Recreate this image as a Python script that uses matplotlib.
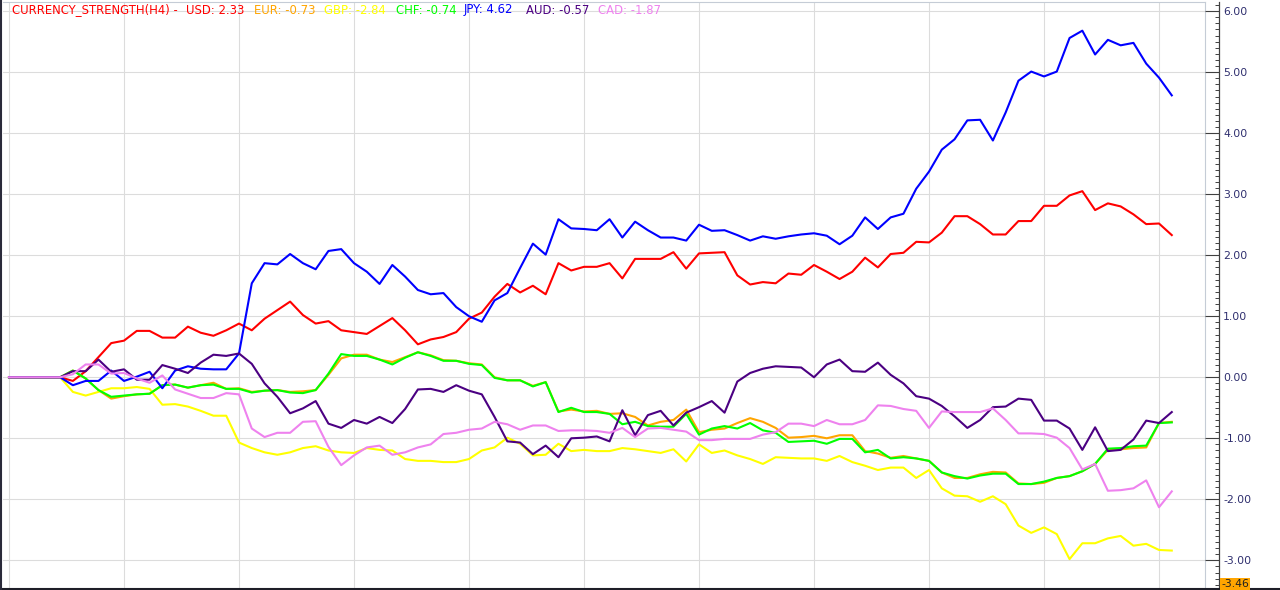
import numpy as np
import matplotlib
matplotlib.use('Agg')
import matplotlib.pyplot as plt
from matplotlib.lines import Line2D
from matplotlib.ticker import MultipleLocator, FormatStrFormatter

# currency strength per H4 bar
usd = [0, 0, 0, 0, 0, -0.06, 0.10, 0.33, 0.56, 0.60,
       0.76, 0.76, 0.65, 0.65, 0.83, 0.73, 0.68, 0.77, 0.88, 0.77,
       0.96, 1.10, 1.24, 1.02, 0.88, 0.92, 0.77, 0.74, 0.71, 0.84,
       0.97, 0.77, 0.54, 0.62, 0.66, 0.74, 0.96, 1.06, 1.32, 1.53,
       1.39, 1.50, 1.36, 1.87, 1.75, 1.81, 1.81, 1.87, 1.62, 1.94,
       1.94, 1.94, 2.05, 1.78, 2.03, 2.04, 2.05, 1.67, 1.52, 1.56,
       1.54, 1.70, 1.68, 1.84, 1.73, 1.61, 1.73, 1.96, 1.80, 2.02,
       2.04, 2.22, 2.21, 2.37, 2.64, 2.64, 2.51, 2.34, 2.34, 2.56,
       2.56, 2.81, 2.81, 2.98, 3.05, 2.74, 2.85, 2.80, 2.67, 2.51,
       2.52, 2.33]
eur = [0, 0, 0, 0, 0, 0.11, -0.02, -0.21, -0.35, -0.31,
       -0.28, -0.27, -0.13, -0.12, -0.17, -0.13, -0.09, -0.19, -0.18, -0.24,
       -0.22, -0.21, -0.24, -0.23, -0.21, 0.04, 0.31, 0.37, 0.37, 0.29,
       0.25, 0.33, 0.41, 0.36, 0.28, 0.27, 0.23, 0.21, 0.00, -0.05,
       -0.05, -0.14, -0.08, -0.56, -0.53, -0.56, -0.55, -0.60, -0.59, -0.65,
       -0.79, -0.73, -0.70, -0.53, -0.90, -0.86, -0.84, -0.75, -0.67, -0.73,
       -0.83, -0.99, -0.98, -0.96, -1.00, -0.95, -0.95, -1.21, -1.25, -1.32,
       -1.29, -1.33, -1.37, -1.56, -1.65, -1.65, -1.59, -1.55, -1.56, -1.74,
       -1.75, -1.73, -1.65, -1.62, -1.54, -1.42, -1.19, -1.18, -1.16, -1.15,
       -0.75, -0.73]
gbp = [0, 0, 0, 0, 0, -0.24, -0.30, -0.24, -0.18, -0.18,
       -0.16, -0.19, -0.45, -0.44, -0.48, -0.55, -0.63, -0.63, -1.07, -1.16,
       -1.23, -1.27, -1.23, -1.16, -1.13, -1.20, -1.23, -1.24, -1.16, -1.19,
       -1.20, -1.34, -1.37, -1.37, -1.39, -1.39, -1.34, -1.20, -1.15, -0.99,
       -1.09, -1.28, -1.27, -1.09, -1.21, -1.19, -1.21, -1.21, -1.16, -1.18,
       -1.21, -1.24, -1.18, -1.38, -1.10, -1.24, -1.20, -1.28, -1.34, -1.42,
       -1.31, -1.32, -1.33, -1.33, -1.37, -1.29, -1.39, -1.45, -1.52, -1.48,
       -1.48, -1.65, -1.52, -1.82, -1.94, -1.95, -2.04, -1.95, -2.08, -2.43,
       -2.55, -2.46, -2.57, -2.98, -2.72, -2.72, -2.64, -2.60, -2.76, -2.73,
       -2.83, -2.84]
chf = [0, 0, 0, 0, 0, 0.11, -0.02, -0.21, -0.32, -0.30,
       -0.28, -0.27, -0.13, -0.12, -0.17, -0.13, -0.12, -0.19, -0.19, -0.25,
       -0.22, -0.21, -0.25, -0.26, -0.21, 0.06, 0.38, 0.35, 0.35, 0.29,
       0.21, 0.32, 0.41, 0.35, 0.27, 0.27, 0.22, 0.20, -0.01, -0.05,
       -0.05, -0.15, -0.08, -0.57, -0.50, -0.57, -0.57, -0.60, -0.77, -0.73,
       -0.80, -0.81, -0.81, -0.60, -0.94, -0.84, -0.80, -0.84, -0.75, -0.87,
       -0.91, -1.06, -1.05, -1.04, -1.09, -1.01, -1.01, -1.23, -1.19, -1.33,
       -1.31, -1.33, -1.37, -1.56, -1.62, -1.66, -1.61, -1.58, -1.58, -1.75,
       -1.75, -1.71, -1.65, -1.62, -1.54, -1.42, -1.17, -1.16, -1.13, -1.12,
       -0.75, -0.74]
jpy = [0, 0, 0, 0, 0, -0.13, -0.06, -0.06, 0.11, -0.06,
       0.01, 0.09, -0.18, 0.11, 0.18, 0.14, 0.13, 0.13, 0.39, 1.54,
       1.87, 1.85, 2.02, 1.87, 1.77, 2.07, 2.10, 1.87, 1.73, 1.53,
       1.84, 1.65, 1.43, 1.36, 1.38, 1.15, 1.00, 0.91, 1.26, 1.38,
       1.79, 2.19, 2.01, 2.59, 2.44, 2.43, 2.41, 2.59, 2.29, 2.55,
       2.41, 2.29, 2.29, 2.24, 2.50, 2.40, 2.41, 2.33, 2.24, 2.31,
       2.27, 2.31, 2.34, 2.36, 2.32, 2.18, 2.32, 2.62, 2.43, 2.62,
       2.68, 3.09, 3.37, 3.73, 3.90, 4.21, 4.22, 3.88, 4.34, 4.86,
       5.01, 4.93, 5.01, 5.56, 5.68, 5.29, 5.53, 5.44, 5.48, 5.14,
       4.91, 4.62]
aud = [0, 0, 0, 0, 0, 0.10, 0.10, 0.29, 0.09, 0.13,
       -0.04, -0.04, 0.20, 0.14, 0.07, 0.24, 0.37, 0.35, 0.39, 0.22,
       -0.10, -0.32, -0.59, -0.51, -0.39, -0.76, -0.83, -0.70, -0.76, -0.65,
       -0.75, -0.52, -0.20, -0.19, -0.24, -0.13, -0.22, -0.28, -0.65, -1.05,
       -1.07, -1.26, -1.12, -1.31, -1.00, -0.99, -0.97, -1.05, -0.54, -0.95,
       -0.62, -0.55, -0.79, -0.58, -0.49, -0.39, -0.58, -0.07, 0.07, 0.14,
       0.18, 0.17, 0.16, 0.00, 0.21, 0.29, 0.10, 0.09, 0.24, 0.04,
       -0.10, -0.31, -0.35, -0.47, -0.64, -0.83, -0.70, -0.49, -0.48, -0.35,
       -0.37, -0.71, -0.71, -0.84, -1.19, -0.82, -1.21, -1.19, -1.02, -0.71,
       -0.75, -0.57]
cad = [0, 0, 0, 0, 0, 0.05, 0.21, 0.21, 0.06, 0.07,
       -0.02, -0.09, 0.03, -0.20, -0.27, -0.34, -0.34, -0.26, -0.28, -0.84,
       -0.98, -0.91, -0.91, -0.73, -0.72, -1.14, -1.44, -1.28, -1.15, -1.12,
       -1.27, -1.23, -1.15, -1.10, -0.93, -0.91, -0.86, -0.84, -0.73, -0.77,
       -0.86, -0.79, -0.79, -0.88, -0.87, -0.87, -0.88, -0.91, -0.83, -0.98,
       -0.84, -0.83, -0.86, -0.89, -1.03, -1.03, -1.01, -1.01, -1.01, -0.94,
       -0.90, -0.76, -0.76, -0.80, -0.70, -0.77, -0.77, -0.70, -0.46, -0.47,
       -0.52, -0.55, -0.83, -0.56, -0.57, -0.57, -0.57, -0.51, -0.70, -0.92,
       -0.92, -0.93, -0.99, -1.16, -1.51, -1.42, -1.86, -1.85, -1.82, -1.69,
       -2.13, -1.87]

names = ['USD', 'EUR', 'GBP', 'CHF', 'JPY', 'AUD', 'CAD']
series = [usd, eur, gbp, chf, jpy, aud, cad]
colors = ['#ff0000', '#ffa500', '#ffff00', '#00ff00', '#0000ff', '#4b0082', '#ee82ee']

ymin, ymax = -3.46, 6.15
W, H = 1280, 590

fig = plt.figure(figsize=(W / 100, H / 100), dpi=100)
fig.patch.set_facecolor('white')

# main plot area (pixel box 3..1205 x 2..588)
bot = (H - 588.4) / H
hgt = (588.4 - 2) / H
ax = fig.add_axes([3 / W, bot, (1205 - 3) / W, hgt])
x = np.arange(len(usd))
for vals, c in zip(series, colors):
    ax.plot(x, vals, color=c, lw=1.5)

ax.set_xlim(-0.47, 93.6)
ax.set_ylim(ymin, ymax)
ax.set_xticks(np.arange(0, len(usd), 9))
ax.set_yticks(np.arange(-3, 7))
ax.grid(True, color='#dcdcdc', lw=0.8)
ax.set_axisbelow(True)
ax.tick_params(length=0, labelbottom=False, labelleft=False)
for s in ['left', 'bottom']:
    ax.spines[s].set_visible(False)
for s in ['top', 'right']:
    ax.spines[s].set_color('#c5ccd6')
    ax.spines[s].set_linewidth(0.8)

# price scale on the right
ax2 = fig.add_axes([1205 / W, bot, 14 / W, hgt])
ax2.set_ylim(ymin, ymax)
ax2.patch.set_alpha(0)
for s in ['left', 'top', 'bottom']:
    ax2.spines[s].set_visible(False)
ax2.spines['right'].set_color('#404040')
ax2.spines['right'].set_linewidth(0.9)
ax2.set_xticks([])
ax2.yaxis.tick_right()
ax2.yaxis.set_major_locator(MultipleLocator(1))
ax2.yaxis.set_minor_locator(MultipleLocator(0.1))
ax2.yaxis.set_major_formatter(FormatStrFormatter('%.2f'))
ax2.tick_params(axis='y', which='major', direction='in', length=10.1, width=0.8,
                color='#404040', labelsize=7.8, labelcolor='#2e2e6e', pad=3)
ax2.tick_params(axis='y', which='minor', direction='in', length=3, width=0.7,
                color='#404040')

# lowest visible value marker
fig.text(1221 / W, (H - 584) / H, f'{ymin:.2f}', fontsize=7.8, color='#202020',
         va='center', ha='left',
         bbox=dict(boxstyle='square,pad=0.1', fc='#ffa500', ec='none'))

# window border
fig.add_artist(Line2D([0, 1], [1 / H, 1 / H], color='#1e1e28', lw=1.5,
                      transform=fig.transFigure))
fig.add_artist(Line2D([1 / W, 1 / W], [0, 1], color='#2a2a3a', lw=1.5,
                      transform=fig.transFigure))

# header text
fig.text(12 / W, (H - 10) / H, 'CURRENCY_STRENGTH(H4) -', fontsize=8.4,
         color='#ff0000', va='center', ha='left')
label_x = [186.5, 253.7, 324, 395.5, 464, 525.6, 598]
for name, vals, c, lx in zip(names, series, colors, label_x):
    fig.text(lx / W, (H - 10) / H, f'{name}: {vals[-1]:.2f}', fontsize=8.4,
             color=c, va='center', ha='left')

fig.savefig('out.png', dpi=100)
